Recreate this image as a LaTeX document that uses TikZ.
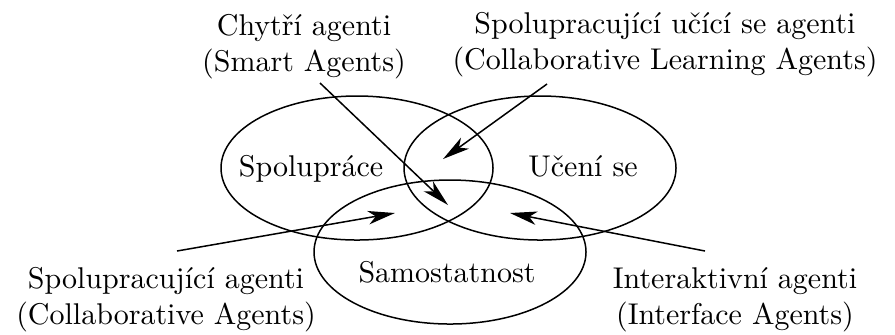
\documentclass[tikz,border=0pt]{standalone}
\usetikzlibrary{arrows.meta}
\begin{document}
\begin{tikzpicture}[x=0.33333pt, y=-0.33333pt, line width=0.5pt,
  ring/.style={draw},
  areaname/.style={inner sep=0pt, anchor=base},
  caption/.style={inner sep=0pt, align=center},
  pointer/.style={-{Stealth[length=9pt, width=4.5pt, inset=2.5pt]}}]
\useasboundingbox (0,0) rectangle (895,334);

% the three overlapping areas
\draw[ring] (357,168) ellipse [x radius=136, y radius=72];
\draw[ring] (540,168) ellipse [x radius=136, y radius=72];
\draw[ring] (450,252) ellipse [x radius=136, y radius=72];

\node[areaname] (coop)  at (311,176) {Spolupráce};
\node[areaname] (learn) at (583,176) {Učení se};
\node[areaname] (auto)  at (447,282) {Samostatnost};

% agent categories
\node[caption] (smart)   at (304,47)  {Chytří agenti\\(Smart Agents)};
\node[caption] (collearn) at (665,45) {Spolupracující učící se agenti\\(Collaborative Learning Agents)};
\node[caption] (collab)  at (166,300) {Spolupracující agenti\\(Collaborative Agents)};
\node[caption] (iface)   at (735,300) {Interaktivní agenti\\(Interface Agents)};

% pointers into the overlaps
\coordinate (smart-from)    at (320,83);
\coordinate (smart-to)      at (448,205);
\coordinate (collearn-from) at (547,84);
\coordinate (collearn-to)   at (443,159);
\coordinate (collab-from)   at (177,251);
\coordinate (collab-to)     at (395,213);
\coordinate (iface-from)    at (705,251);
\coordinate (iface-to)      at (510,213);

\draw[pointer] (smart-from) -- (smart-to);
\draw[pointer] (collearn-from) -- (collearn-to);
\draw[pointer] (collab-from) -- (collab-to);
\draw[pointer] (iface-from) -- (iface-to);
\end{tikzpicture}
\end{document}
